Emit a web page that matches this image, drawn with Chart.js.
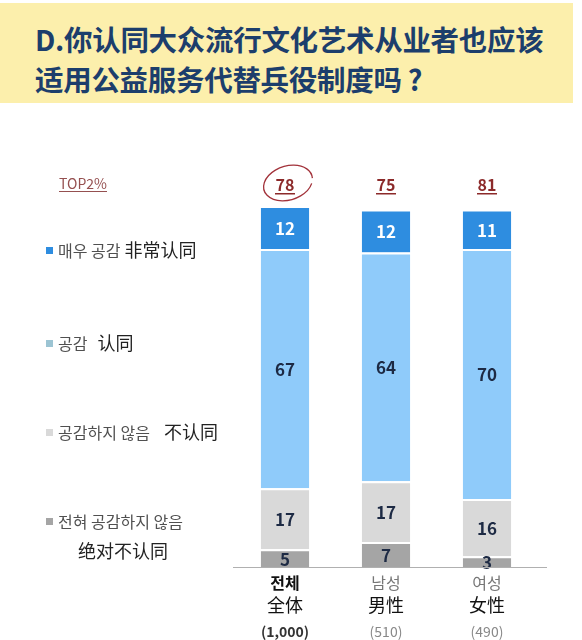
<!DOCTYPE html>
<html>
<head>
<meta charset="utf-8">
<script src="https://cdn.jsdelivr.net/npm/chart.js@4/dist/chart.umd.min.js"></script>
<style>
  html, body { margin: 0; padding: 0; background: #fff; }
  #wrap { position: relative; width: 582px; height: 640px; overflow: hidden; }
  #title {
    position: absolute; left: 0; top: 3px; width: 573px; height: 100px;
    background: #fcefac; box-sizing: border-box; padding: 16px 0 0 35px;
    font-family: "Noto Sans CJK SC", sans-serif; font-weight: bold;
    font-size: 28.5px; line-height: 40px; color: #1c3e6c; letter-spacing: -0.3px;
    white-space: nowrap;
  }
  canvas { position: absolute; left: 0; top: 0; }
</style>
</head>
<body>
<div id="wrap">
  <div id="title">D.你认同大众流行文化艺术从业者也应该<br>适用公益服务代替兵役制度吗 ?</div>
  <canvas id="c" width="582" height="640"></canvas>
</div>
<script>
// --- data -----------------------------------------------------------------
var groupsKo = ["전체", "남성", "여성"];
var groupsZh = ["全体", "男性", "女性"];
var counts = ["(1,000)", "(510)", "(490)"];
var top2 = [78, 75, 81];
var strongAgree = [12, 12, 11];
var agree = [67, 64, 70];
var disagree = [17, 17, 16];
var strongDisagree = [5, 7, 3];

var legendKo = ["매우 공감", "공감", "공감하지 않음", "전혀 공감하지 않음"];
var legendZh = ["非常认同", "认同", "不认同", "绝对不认同"];

// --- colours ---------------------------------------------------------------
var C_TOP = "#2e8de0", C_AGREE = "#8fcbfa", C_DIS = "#d9d9d9", C_SDIS = "#a5a5a5";
var NAVY = "#1d2a44", DARKRED = "#8c2a2a";
var KO = '"Noto Sans CJK KR", sans-serif';
var ZH = '"Noto Sans CJK SC", sans-serif';

function seg(label, data, color, textColor) {
  return { label: label, data: data, backgroundColor: color, textColor: textColor,
    borderColor: "#ffffff", borderWidth: { top: 2 }, borderSkipped: "start" };
}

// Values inside segments, TOP2 totals, x labels and the left legend.
var overlay = {
  id: "overlay",
  afterDatasetsDraw: function (chart) {
    var ctx = chart.ctx, x = chart.scales.x, y = chart.scales.y;
    ctx.save();
    ctx.textAlign = "center"; ctx.textBaseline = "middle";

    // segment values
    chart.data.datasets.forEach(function (ds, di) {
      chart.getDatasetMeta(di).data.forEach(function (bar, i) {
        ctx.fillStyle = ds.textColor;
        ctx.font = "bold 17px " + KO;
        ctx.fillText(String(ds.data[i]), bar.x, (bar.y + bar.base) / 2 + 1);
      });
    });

    // baseline
    ctx.strokeStyle = "#b0b0b0"; ctx.lineWidth = 1;
    ctx.beginPath(); ctx.moveTo(233, y.getPixelForValue(0) + 0.5);
    ctx.lineTo(547, y.getPixelForValue(0) + 0.5); ctx.stroke();

    // TOP2 totals, underlined
    top2.forEach(function (v, i) {
      var cx = x.getPixelForValue(i);
      ctx.fillStyle = DARKRED; ctx.font = "bold 16px " + KO;
      ctx.fillText(String(v), cx, 185);
      ctx.fillRect(cx - 10, 193, 20, 1.5);
    });
    // hand drawn circle round the first total
    ctx.strokeStyle = "#a2323a"; ctx.lineWidth = 1.3;
    ctx.beginPath();
    ctx.ellipse(x.getPixelForValue(0) + 3, 183, 25, 17, -0.3, 0.45, Math.PI * 2 + 0.15);
    ctx.stroke();

    ctx.fillStyle = "#955050"; ctx.font = "14px " + KO; ctx.textAlign = "left";
    ctx.fillText("TOP2%", 59, 184);
    ctx.fillRect(59, 191, 48, 1);

    // x labels
    ctx.textAlign = "center";
    groupsKo.forEach(function (g, i) {
      var cx = x.getPixelForValue(i), first = i === 0;
      ctx.fillStyle = first ? "#111" : "#777";
      ctx.font = (first ? "bold " : "") + "16px " + KO;
      ctx.fillText(g, cx, 583);
      ctx.fillStyle = "#111"; ctx.font = "18px " + ZH;
      ctx.fillText(groupsZh[i], cx, 605);
      ctx.fillStyle = first ? "#333" : "#888";
      ctx.font = (first ? "bold " : "") + "14px " + KO;
      ctx.fillText(counts[i], cx, 632);
    });

    // left legend (top segment first)
    var rows = [250, 343, 432, 521];
    var cols = [C_TOP, "#9cc4d3", C_DIS, C_SDIS];
    var gaps = [4, 10, 14];
    ctx.textAlign = "left";
    legendKo.forEach(function (t, i) {
      ctx.fillStyle = cols[i];
      ctx.fillRect(46, rows[i] - 3, 7, 7);
      ctx.fillStyle = "#505050"; ctx.font = "16px " + KO;
      ctx.fillText(t, 58, rows[i] + 1);
      var w = ctx.measureText(t).width;
      ctx.fillStyle = "#222"; ctx.font = "18px " + ZH;
      if (i < 3) ctx.fillText(legendZh[i], 58 + w + gaps[i], rows[i]);
      else ctx.fillText(legendZh[i], 78, 551);
    });
    ctx.restore();
  }
};

new Chart(document.getElementById("c"), {
  type: "bar",
  data: {
    labels: groupsKo,
    datasets: [
      seg("전혀 공감하지 않음", strongDisagree, C_SDIS, NAVY),
      seg("공감하지 않음", disagree, C_DIS, NAVY),
      seg("공감", agree, C_AGREE, NAVY),
      seg("매우 공감", strongAgree, C_TOP, "#ffffff")
    ]
  },
  options: {
    responsive: false, animation: false,
    layout: { padding: { left: 234.5, right: 44.5, top: 206, bottom: 73 } },
    datasets: { bar: { categoryPercentage: 1, barPercentage: 0.48 } },
    plugins: { legend: { display: false }, tooltip: { enabled: false } },
    scales: {
      x: { stacked: true, display: false },
      y: { stacked: true, display: false, min: 0, max: 101 }
    }
  },
  plugins: [overlay]
});
</script>
</body>
</html>
